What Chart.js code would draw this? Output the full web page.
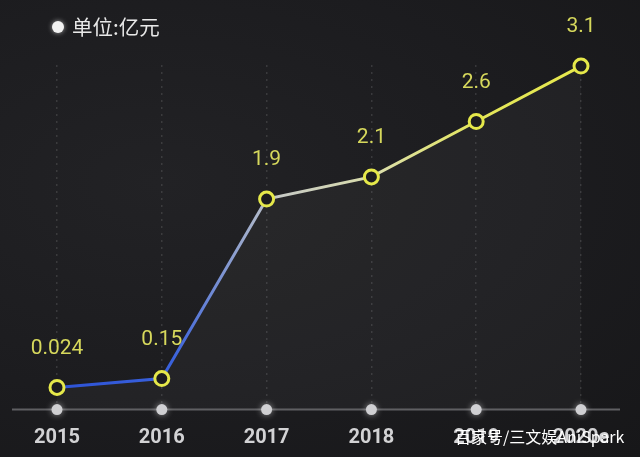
<!DOCTYPE html>
<html><head><meta charset="utf-8">
<script src="https://cdn.jsdelivr.net/npm/chart.js@4.4.1/dist/chart.umd.min.js"></script>
<style>
html,body{margin:0;padding:0;width:640px;height:457px;overflow:hidden;
background:radial-gradient(ellipse at 25% 40%, #222225 0%, #1c1c1f 55%, #171719 100%);}
#wrap{position:absolute;left:0;top:0;width:640px;height:457px;}
</style></head>
<body><div id="wrap"><canvas id="c" width="640" height="457"></canvas></div>
<script>
const categories = ['2015','2016','2017','2018','2019','2020e'];
const values = [0.2, 0.28, 1.9, 2.1, 2.6, 3.1];
const valueLabels = ['0.024','0.15','1.9','2.1','2.6','3.1'];
const unitLabel = '单位:亿元';
const watermark = '百家号/三文娱AniSpark';

const deco = {
  id:'deco',
  beforeDatasetsDraw(chart){
    const ctx = chart.ctx, x = chart.scales.x, y = chart.scales.y;
    const y0 = y.getPixelForValue(0);
    ctx.save();
    ctx.strokeStyle = '#5f5f62'; ctx.lineWidth = 2;
    ctx.beginPath(); ctx.moveTo(12, y0); ctx.lineTo(620, y0); ctx.stroke();
    categories.forEach((c,i)=>{
      const px = x.getPixelForValue(i);
      ctx.shadowColor='rgba(255,255,255,0.5)'; ctx.shadowBlur=6;
      ctx.fillStyle='#cfcfd2';
      ctx.beginPath(); ctx.arc(px, y0, 5.5, 0, Math.PI*2); ctx.fill();
    });
    ctx.restore();
  },
  afterDatasetsDraw(chart){
    const ctx = chart.ctx;
    const meta = chart.getDatasetMeta(0);
    ctx.save();
    ctx.fillStyle = '#d6d85c';
    ctx.font = '21px Roboto, "Noto Sans", sans-serif';
    ctx.textAlign='center'; ctx.textBaseline='middle';
    meta.data.forEach((pt,i)=>{ ctx.fillText(valueLabels[i], pt.x, pt.y-39); });
    // legend
    ctx.shadowColor='rgba(255,255,255,0.6)'; ctx.shadowBlur=5;
    ctx.fillStyle='#f2f2f2';
    ctx.beginPath(); ctx.arc(58, 27, 6, 0, Math.PI*2); ctx.fill();
    ctx.shadowBlur=0;
    ctx.fillStyle='#e8e8e8';
    ctx.textAlign='left';
    ctx.font = '20.5px "Noto Sans CJK SC", sans-serif';
    ctx.fillText(unitLabel, 72, 27);
    ctx.restore();
  },
  afterDraw(chart){
    const ctx = chart.ctx;
    ctx.save();
    ctx.fillStyle='#ffffff';
    ctx.font='16px "Noto Sans CJK SC", sans-serif';
    ctx.textAlign='left'; ctx.textBaseline='middle';
    ctx.fillText(watermark, 455, 437);
    ctx.restore();
  }
};

function lineGradient(context){
  const chart = context.chart; const ca = chart.chartArea;
  if(!ca) return '#e5e84a';
  const x = chart.scales.x;
  const g = chart.ctx.createLinearGradient(x.getPixelForValue(0),0,x.getPixelForValue(5),0);
  g.addColorStop(0,'#2d52d6');
  g.addColorStop(0.22,'#3a62dc');
  g.addColorStop(0.42,'#c6c9c6');
  g.addColorStop(0.62,'#dcdfa8');
  g.addColorStop(0.8,'#e4e65c');
  g.addColorStop(1,'#e6e84c');
  return g;
}

new Chart(document.getElementById('c'), {
  type:'line',
  data:{ labels: categories, datasets:[{
    data: values,
    borderColor: lineGradient,
    borderWidth: 3,
    tension: 0,
    fill: 'origin',
    backgroundColor: 'rgba(255,255,255,0.03)',
    pointRadius: 7, pointHoverRadius: 7,
    pointBorderWidth: 3,
    pointBorderColor: '#e5e84a',
    pointBackgroundColor: '#1c1c1f',
    clip: false
  }]},
  plugins:[deco],
  options:{
    responsive:false, animation:false,
    layout:{ autoPadding:false, padding:{ left:4.6, right:6.6, top:65, bottom:0 } },
    plugins:{ legend:{display:false}, tooltip:{enabled:false} },
    scales:{
      x:{ offset:true,
        afterFit(scale){ scale.height = 47.4; },
        border:{display:false, dash:[2,5]},
        grid:{ color:'rgba(255,255,255,0.12)', lineWidth:1.5, drawTicks:false, borderDash:[2,5], offset:false},
        ticks:{ color:'#d2d2d4', padding:16.5, font:{ family:'Roboto', size:20, weight:'bold' } }
      },
      y:{ display:false, min:0, max:3.11 }
    }
  }
});
</script></body></html>
